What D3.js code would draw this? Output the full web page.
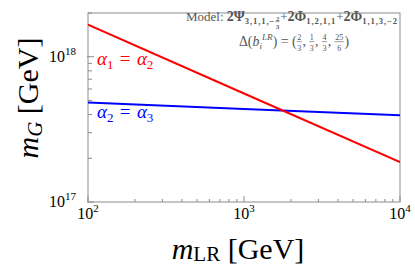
<!DOCTYPE html>
<html>
<head>
<meta charset="utf-8">
<script src="https://cdn.jsdelivr.net/npm/d3@7"></script>
<style>
  body { margin: 0; background: #fff; }
  svg { display: block; }
  text { font-family: 'Liberation Serif', 'Times New Roman', serif; }
</style>
</head>
<body>
<div id="root"></div>
<script>
// data
const mLR = [100, 1000, 10000];
const alpha12 = [1.66e18, 5.58e17, 1.88e17]; // alpha1 = alpha2
const alpha23 = [4.84e17, 4.37e17, 3.95e17]; // alpha2 = alpha3
const xTicks = [100, 1000, 10000];
const yTicks = [1e17, 1e18];
const xDomain = [100, 10000];
const yDomain = [1e17, 2e18];

const width = 415;
const height = 280;
const plot = { left: 88, right: 400, top: 13, bottom: 202 };

const svg = d3.select('#root').append('svg')
  .attr('width', width)
  .attr('height', height);

const x = d3.scaleLog().domain(xDomain).range([plot.left, plot.right]);
const y = d3.scaleLog().domain(yDomain).range([plot.bottom, plot.top]);

const axisColor = '#8c8c8c';

// frame
svg.append('rect')
  .attr('x', plot.left).attr('y', plot.top)
  .attr('width', plot.right - plot.left)
  .attr('height', plot.bottom - plot.top)
  .attr('fill', 'none')
  .attr('stroke', axisColor)
  .attr('stroke-width', 1);

// minor ticks (inward)
const xMinor = [];
for (let e = 2; e < 4; e++) for (let k = 2; k < 10; k++) xMinor.push(k * Math.pow(10, e));
const yMinor = [];
for (let e = 17; e < 19; e++) for (let k = 2; k < 10; k++) {
  const v = k * Math.pow(10, e);
  if (v <= yDomain[1]) yMinor.push(v);
}

svg.append('g').selectAll('line').data(xMinor).join('line')
  .attr('x1', d => x(d)).attr('x2', d => x(d))
  .attr('y1', plot.bottom).attr('y2', plot.bottom - 3)
  .attr('stroke', axisColor);
svg.append('g').selectAll('line').data(xTicks).join('line')
  .attr('x1', d => x(d)).attr('x2', d => x(d))
  .attr('y1', plot.bottom).attr('y2', plot.bottom - 6)
  .attr('stroke', axisColor);
svg.append('g').selectAll('line').data(yMinor).join('line')
  .attr('x1', plot.left).attr('x2', plot.left + 4)
  .attr('y1', d => y(d)).attr('y2', d => y(d))
  .attr('stroke', axisColor);
svg.append('g').selectAll('line').data(yTicks).join('line')
  .attr('x1', plot.left - 1).attr('x2', plot.left + 6)
  .attr('y1', d => y(d)).attr('y2', d => y(d))
  .attr('stroke', axisColor);

// tick labels
function powLabel(sel, exp) {
  sel.append('tspan').text('10');
  sel.append('tspan').attr('font-size', 11).attr('dy', -7).text(exp);
}
svg.append('g').selectAll('text').data(xTicks).join('text')
  .attr('x', d => x(d))
  .attr('y', plot.bottom + 17)
  .attr('text-anchor', 'middle')
  .attr('font-size', 16)
  .each(function(d) { powLabel(d3.select(this), Math.round(Math.log10(d))); });
svg.append('g').selectAll('text').data(yTicks).join('text')
  .attr('x', plot.left - 12)
  .attr('y', d => Math.min(y(d) + 5, plot.bottom + 7))
  .attr('text-anchor', 'end')
  .attr('font-size', 16)
  .each(function(d) { powLabel(d3.select(this), Math.round(Math.log10(d))); });

// lines
const line = d3.line().x(d => x(d[0])).y(d => y(d[1]));
svg.append('defs').append('clipPath').attr('id', 'clip')
  .append('rect')
  .attr('x', plot.left).attr('y', plot.top)
  .attr('width', plot.right - plot.left).attr('height', plot.bottom - plot.top);
const g = svg.append('g').attr('clip-path', 'url(#clip)');
g.append('path')
  .datum(d3.zip(mLR, alpha23))
  .attr('d', line)
  .attr('fill', 'none').attr('stroke', '#0000ff').attr('stroke-width', 2);
g.append('path')
  .datum(d3.zip(mLR, alpha12))
  .attr('d', line)
  .attr('fill', 'none').attr('stroke', '#ff0000').attr('stroke-width', 2);

// curve labels
function alphaLabel(xp, yp, a, b, color) {
  const t = svg.append('text').attr('x', xp).attr('y', yp)
    .attr('font-size', 19).attr('fill', color)
    .style('white-space', 'pre');
  t.append('tspan').attr('font-style', 'italic').text('α');
  t.append('tspan').attr('font-size', 13).attr('dy', 4).text(a);
  t.append('tspan').attr('dy', -4).text('\u2004=\u2004');
  t.append('tspan').attr('font-style', 'italic').text('α');
  t.append('tspan').attr('font-size', 13).attr('dy', 4).text(b);
}
alphaLabel(97, 65, '1', '2', '#ff0000');
alphaLabel(97, 118, '2', '3', '#0000ff');

// axis titles
const xt = svg.append('text')
  .attr('x', 238).attr('y', 259)
  .attr('text-anchor', 'middle')
  .attr('font-size', 30)
  .style('white-space', 'pre');
xt.append('tspan').attr('font-style', 'italic').text('m');
xt.append('tspan').attr('font-size', 21).attr('dy', 2).text('LR');
xt.append('tspan').attr('dy', -2).text(' [GeV]');

const yt = svg.append('text')
  .attr('transform', 'translate(38,98) rotate(-90)')
  .attr('text-anchor', 'middle')
  .attr('font-size', 30)
  .style('white-space', 'pre');
yt.append('tspan').attr('font-style', 'italic').text('m');
yt.append('tspan').attr('font-size', 21).attr('dy', 4).attr('font-style', 'italic').text('G');
yt.append('tspan').attr('dy', -4).text(' [GeV]');

// annotation: rich text laid out piece by piece, then fitted to a width
const annoColor = '#555';
function richText(segments, x0, x1, yp) {
  const grp = svg.append('g');
  let cx = 0;
  segments.forEach(s => {
    if (s.frac) {
      const fs = s.size || 6;
      const n = grp.append('text').attr('font-size', fs).attr('fill', annoColor)
        .attr('font-weight', s.bold ? 'bold' : null).text(s.frac[0]);
      const d = grp.append('text').attr('font-size', fs).attr('fill', annoColor)
        .attr('font-weight', s.bold ? 'bold' : null).text(s.frac[1]);
      const w = Math.max(n.node().getComputedTextLength(), d.node().getComputedTextLength());
      const base = s.dy || 0;
      n.attr('x', cx + w / 2 + 0.5).attr('y', base - fs * 0.55).attr('text-anchor', 'middle');
      d.attr('x', cx + w / 2 + 0.5).attr('y', base + fs * 0.75).attr('text-anchor', 'middle');
      grp.append('line').attr('x1', cx).attr('x2', cx + w + 1)
        .attr('y1', base - fs * 0.4).attr('y2', base - fs * 0.4)
        .attr('stroke', annoColor).attr('stroke-width', 0.5);
      cx += w + 1.5;
      return;
    }
    const t = grp.append('text')
      .attr('x', cx).attr('y', s.dy || 0)
      .attr('font-size', s.size || 12)
      .attr('font-weight', s.bold ? 'bold' : null)
      .attr('font-style', s.italic ? 'italic' : null)
      .attr('letter-spacing', s.ls || null)
      .attr('fill', annoColor)
      .style('white-space', 'pre')
      .text(s.t);
    cx += t.node().getComputedTextLength();
  });
  const k = (x1 - x0) / cx;
  grp.attr('transform', `translate(${x0},${yp}) scale(${k})`);
}

richText([
  { t: 'Model: ' },
  { t: '2Ψ', bold: true, size: 13 },
  { t: '3,1,1,−', bold: true, size: 8, dy: 3, ls: 0.8 },
  { frac: ['2', '3'], bold: true, size: 6, dy: 3 },
  { t: '+' },
  { t: '2Φ', bold: true, size: 13 },
  { t: '1,2,1,1', bold: true, size: 8, dy: 3, ls: 0.8 },
  { t: '+' },
  { t: '2Φ', bold: true, size: 13 },
  { t: '1,1,3,−2', bold: true, size: 8, dy: 3, ls: 0.8 }
], 186, 398, 21);

richText([
  { t: 'Δ(' },
  { t: 'b', italic: true },
  { t: 'i', italic: true, size: 8, dy: 3 },
  { t: 'LR', italic: true, size: 8, dy: -5 },
  { t: ') = (' },
  { frac: ['2', '3'], size: 7, dy: -1 },
  { t: ', ' },
  { frac: ['1', '3'], size: 7, dy: -1 },
  { t: ', ' },
  { frac: ['4', '3'], size: 7, dy: -1 },
  { t: ', ' },
  { frac: ['25', '6'], size: 7, dy: -1 },
  { t: ')' }
], 239, 349, 46);
</script>
</body>
</html>
